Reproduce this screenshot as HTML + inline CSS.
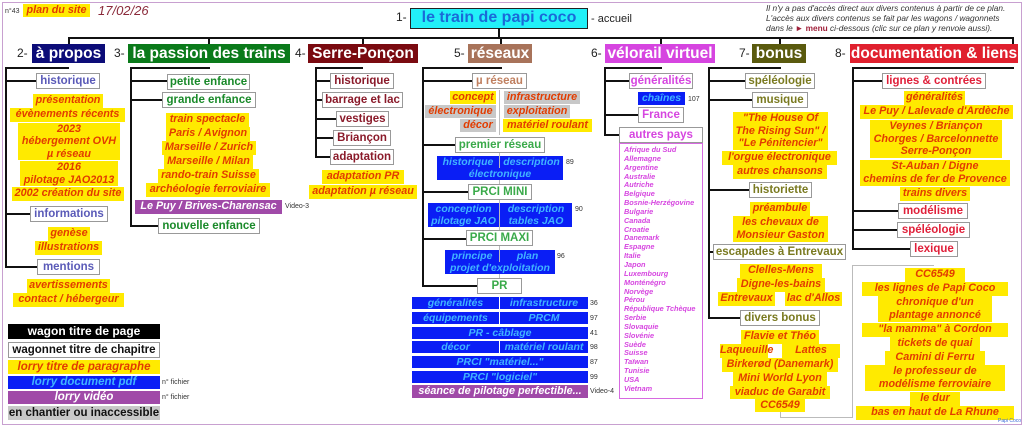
<!DOCTYPE html>
<html><head><meta charset="utf-8"><style>
*{margin:0;padding:0;box-sizing:border-box}
body{width:1024px;height:427px;position:relative;background:#fff;font-family:"Liberation Sans",Arial,sans-serif;overflow:hidden}
div{position:absolute;white-space:nowrap;text-align:center}
.fr{left:2px;top:2px;width:1020px;height:423px;border:1px solid #c8a0d0}
.l{background:#111}
.tl{background:#bbb}
.h{color:#fff;font-weight:bold;font-size:15.5px;line-height:19px;height:19px;overflow:hidden}
.n{font-size:12px;color:#222;line-height:19px}
.b{background:#fff;border:1px solid #999;font-weight:bold;font-size:11.5px;line-height:14px;height:16px}
.y{background:#ffea00;color:#e23c00;font-weight:bold;font-style:italic;font-size:10.8px;line-height:13px}
.gy{background:#c8c8c8;color:#e23c00;font-weight:bold;font-style:italic;font-size:10.8px;line-height:13px}
.bl{background:#0a1ef5;color:#40b4ff;font-weight:bold;font-style:italic;font-size:10.5px;line-height:12px;height:12px}
.pu{background:#a04aa8;color:#fff;font-weight:bold;font-style:italic;font-size:10.8px;line-height:13px}
.s{font-size:7px;color:#333;text-align:left}
</style></head><body>
<div class="fr"></div>
<div class="s" style="left:5px;top:8px">n°43</div>
<div class="y" style="left:23px;top:4px;width:67px;height:13px">plan du site</div>
<div style="left:98px;top:3px;font-size:13px;font-style:italic;color:#8a2a3a">17/02/26</div>
<div class="n" style="left:396px;top:8px">1-</div>
<div style="left:410px;top:8px;width:178px;height:21px;background:#22f0f8;border:1px solid #222;color:#1a6ad8;font-weight:bold;font-size:16px;line-height:18px">le train de papi coco</div>
<div style="left:591px;top:13px;font-size:11px;color:#222">- accueil</div>
<div style="left:766px;top:3px;font-size:8.3px;font-style:italic;color:#333;text-align:left;line-height:10px">Il n'y a pas d'accès direct aux divers contenus à partir de ce plan.<br>L'accès aux divers contenus se fait par les wagons / wagonnets<br>dans le <span style="color:#a0203a;font-style:normal;font-weight:bold">► menu</span> ci-dessous (clic sur ce plan y renvoie aussi).</div>

<div class="l" style="left:498px;top:28px;width:2px;height:10px"></div>
<div class="l" style="left:68px;top:37px;width:946px;height:2px"></div>
<div class="l" style="left:68px;top:37px;width:2px;height:8px"></div>
<div class="l" style="left:208px;top:37px;width:2px;height:8px"></div>
<div class="l" style="left:362px;top:37px;width:2px;height:8px"></div>
<div class="l" style="left:500px;top:37px;width:2px;height:8px"></div>
<div class="l" style="left:660px;top:37px;width:2px;height:8px"></div>
<div class="l" style="left:779px;top:37px;width:2px;height:8px"></div>
<div class="l" style="left:1012px;top:37px;width:2px;height:8px"></div>

<div class="n" style="left:17px;top:44px">2-</div><div class="h" style="left:32px;top:44px;width:73px;background:#0c0c78">à propos</div>
<div class="n" style="left:114px;top:44px">3-</div><div class="h" style="left:128px;top:44px;width:162px;background:#0a7a1a">la passion des trains</div>
<div class="n" style="left:295px;top:44px">4-</div><div class="h" style="left:308px;top:44px;width:110px;background:#7a0a10">Serre-Ponçon</div>
<div class="n" style="left:454px;top:44px">5-</div><div class="h" style="left:468px;top:44px;width:64px;background:#a8735a">réseaux</div>
<div class="n" style="left:591px;top:44px">6-</div><div class="h" style="left:605px;top:44px;width:110px;background:#d645e0">vélorail virtuel</div>
<div class="n" style="left:739px;top:44px">7-</div><div class="h" style="left:752px;top:44px;width:54px;background:#5a5a0e">bonus</div>
<div class="n" style="left:835px;top:44px">8-</div><div class="h" style="left:850px;top:44px;width:168px;background:#e0202e">documentation &amp; liens</div>

<div class="l" style="left:5px;top:67px;width:64px;height:2px"></div>
<div class="l" style="left:5px;top:67px;width:2px;height:201px"></div>
<div class="l" style="left:5px;top:80px;width:32px;height:2px"></div>
<div class="l" style="left:5px;top:213px;width:26px;height:2px"></div>
<div class="l" style="left:5px;top:266px;width:33px;height:2px"></div>

<div class="l" style="left:130px;top:67px;width:80px;height:2px"></div>
<div class="l" style="left:130px;top:67px;width:2px;height:160px"></div>
<div class="l" style="left:130px;top:80px;width:38px;height:2px"></div>
<div class="l" style="left:130px;top:99px;width:33px;height:2px"></div>
<div class="l" style="left:130px;top:225px;width:29px;height:2px"></div>

<div class="l" style="left:315px;top:67px;width:48px;height:2px"></div>
<div class="l" style="left:315px;top:67px;width:2px;height:91px"></div>
<div class="l" style="left:315px;top:80px;width:16px;height:2px"></div>
<div class="l" style="left:315px;top:99px;width:8px;height:2px"></div>
<div class="l" style="left:315px;top:118px;width:22px;height:2px"></div>
<div class="l" style="left:315px;top:137px;width:19px;height:2px"></div>
<div class="l" style="left:315px;top:156px;width:16px;height:2px"></div>

<div class="l" style="left:422px;top:67px;width:80px;height:2px"></div>
<div class="l" style="left:422px;top:67px;width:2px;height:220px"></div>
<div class="l" style="left:422px;top:80px;width:51px;height:2px"></div>
<div class="l" style="left:422px;top:144px;width:34px;height:2px"></div>
<div class="l" style="left:422px;top:191px;width:47px;height:2px"></div>
<div class="l" style="left:422px;top:238px;width:45px;height:2px"></div>
<div class="l" style="left:422px;top:285px;width:56px;height:2px"></div>

<div class="l" style="left:604px;top:67px;width:58px;height:2px"></div>
<div class="l" style="left:604px;top:67px;width:2px;height:69px"></div>
<div class="l" style="left:604px;top:80px;width:26px;height:2px"></div>
<div class="l" style="left:604px;top:114px;width:35px;height:2px"></div>
<div class="l" style="left:604px;top:134px;width:16px;height:2px"></div>

<div class="l" style="left:708px;top:67px;width:73px;height:2px"></div>
<div class="l" style="left:708px;top:67px;width:2px;height:252px"></div>
<div class="l" style="left:708px;top:80px;width:38px;height:2px"></div>
<div class="l" style="left:708px;top:99px;width:45px;height:2px"></div>
<div class="l" style="left:708px;top:189px;width:42px;height:2px"></div>
<div class="l" style="left:708px;top:251px;width:6px;height:2px"></div>
<div class="l" style="left:708px;top:317px;width:33px;height:2px"></div>

<div class="l" style="left:852px;top:67px;width:162px;height:2px"></div>
<div class="l" style="left:852px;top:67px;width:2px;height:182px"></div>
<div class="l" style="left:852px;top:80px;width:31px;height:2px"></div>
<div class="l" style="left:852px;top:210px;width:47px;height:2px"></div>
<div class="l" style="left:852px;top:229px;width:46px;height:2px"></div>
<div class="l" style="left:852px;top:248px;width:59px;height:2px"></div>

<div class="tl" style="left:780px;top:405px;width:1px;height:13px"></div>
<div class="tl" style="left:780px;top:417px;width:73px;height:1px"></div>
<div class="tl" style="left:852px;top:265px;width:1px;height:153px"></div>
<div class="tl" style="left:852px;top:265px;width:82px;height:1px"></div>
<div class="tl" style="left:499px;top:150px;width:1px;height:140px"></div>
<div class="tl" style="left:499px;top:90px;width:1px;height:45px"></div>

<div class="b" style="left:36px;top:73px;width:64px;color:#5a5ab8">historique</div>
<div class="y" style="left:33px;top:94px;width:70px;height:14px">présentation</div>
<div class="y" style="left:10px;top:108px;width:115px;height:14px">évènements récents</div>
<div class="y" style="left:18px;top:123px;width:102px;height:37px;line-height:12.3px">2023<br>hébergement OVH<br>µ réseau</div>
<div class="y" style="left:20px;top:161px;width:98px;height:25px;line-height:12.5px">2016<br>pilotage JAO2013</div>
<div class="y" style="left:12px;top:187px;width:112px;height:14px">2002 création du site</div>
<div class="b" style="left:30px;top:206px;width:78px;color:#5a5ab8">informations</div>
<div class="y" style="left:48px;top:227px;width:42px;height:14px">genèse</div>
<div class="y" style="left:35px;top:241px;width:67px;height:14px">illustrations</div>
<div class="b" style="left:37px;top:259px;width:63px;color:#5a5ab8">mentions</div>
<div class="y" style="left:27px;top:279px;width:83px;height:14px">avertissements</div>
<div class="y" style="left:13px;top:293px;width:111px;height:14px">contact / hébergeur</div>

<div class="b" style="left:167px;top:74px;width:83px;color:#1a8a2a">petite enfance</div>
<div class="b" style="left:162px;top:92px;width:94px;color:#1a8a2a">grande enfance</div>
<div class="y" style="left:166px;top:113px;width:83px;height:14px">train spectacle</div>
<div class="y" style="left:166px;top:127px;width:84px;height:14px">Paris / Avignon</div>
<div class="y" style="left:162px;top:141px;width:94px;height:14px">Marseille / Zurich</div>
<div class="y" style="left:164px;top:155px;width:89px;height:14px">Marseille / Milan</div>
<div class="y" style="left:158px;top:169px;width:101px;height:14px">rando-train Suisse</div>
<div class="y" style="left:146px;top:183px;width:124px;height:14px">archéologie ferroviaire</div>
<div class="pu" style="left:135px;top:200px;width:147px;height:14px">Le Puy / Brives-Charensac</div>
<div class="s" style="left:285px;top:203px">Video-3</div>
<div class="b" style="left:158px;top:218px;width:102px;color:#1a8a2a">nouvelle enfance</div>

<div class="b" style="left:330px;top:73px;width:64px;color:#8a1a2a">historique</div>
<div class="b" style="left:322px;top:92px;width:81px;color:#8a1a2a">barrage et lac</div>
<div class="b" style="left:336px;top:111px;width:53px;color:#8a1a2a">vestiges</div>
<div class="b" style="left:333px;top:130px;width:58px;color:#8a1a2a">Briançon</div>
<div class="b" style="left:330px;top:149px;width:64px;color:#8a1a2a">adaptation</div>
<div class="y" style="left:322px;top:170px;width:82px;height:14px">adaptation PR</div>
<div class="y" style="left:309px;top:185px;width:108px;height:14px">adaptation µ réseau</div>

<div class="b" style="left:472px;top:73px;width:55px;color:#c08060">µ réseau</div>
<div class="y" style="left:450px;top:91px;width:46px;height:13px">concept</div>
<div class="gy" style="left:504px;top:91px;width:76px;height:13px">infrastructure</div>
<div class="gy" style="left:425px;top:105px;width:71px;height:13px">électronique</div>
<div class="gy" style="left:504px;top:105px;width:66px;height:13px">exploitation</div>
<div class="gy" style="left:460px;top:119px;width:36px;height:13px">décor</div>
<div class="y" style="left:503px;top:119px;width:89px;height:13px">matériel roulant</div>
<div class="b" style="left:455px;top:137px;width:90px;color:#3aaa4a">premier réseau</div>
<div class="bl" style="left:437px;top:156px;width:62px">historique</div><div class="bl" style="left:500px;top:156px;width:63px">description</div>
<div class="bl" style="left:437px;top:168px;width:126px">électronique</div>
<div class="s" style="left:566px;top:159px">89</div>
<div class="b" style="left:468px;top:184px;width:64px;color:#3aaa4a">PRCI MINI</div>
<div class="bl" style="left:428px;top:203px;width:71px">conception</div><div class="bl" style="left:500px;top:203px;width:72px">description</div>
<div class="bl" style="left:428px;top:215px;width:71px">pilotage JAO</div><div class="bl" style="left:500px;top:215px;width:72px">tables JAO</div>
<div class="s" style="left:575px;top:206px">90</div>
<div class="b" style="left:466px;top:230px;width:67px;color:#3aaa4a">PRCI MAXI</div>
<div class="bl" style="left:445px;top:250px;width:54px">principe</div><div class="bl" style="left:500px;top:250px;width:55px">plan</div>
<div class="bl" style="left:445px;top:262px;width:110px">projet d'exploitation</div>
<div class="s" style="left:557px;top:253px">96</div>
<div class="b" style="left:477px;top:278px;width:45px;color:#3aaa4a">PR</div>
<div class="bl" style="left:412px;top:297px;width:87px">généralités</div><div class="bl" style="left:500px;top:297px;width:88px">infrastructure</div>
<div class="bl" style="left:412px;top:312px;width:87px">équipements</div><div class="bl" style="left:500px;top:312px;width:88px">PRCM</div>
<div class="bl" style="left:412px;top:327px;width:176px">PR - câblage</div>
<div class="bl" style="left:412px;top:341px;width:87px">décor</div><div class="bl" style="left:500px;top:341px;width:88px">matériel roulant</div>
<div class="bl" style="left:412px;top:356px;width:176px">PRCI "matériel..."</div>
<div class="bl" style="left:412px;top:371px;width:176px">PRCI "logiciel"</div>
<div class="pu" style="left:412px;top:385px;width:176px;height:13px;line-height:13px">séance de pilotage perfectible...</div>
<div class="s" style="left:590px;top:300px">36</div>
<div class="s" style="left:590px;top:315px">97</div>
<div class="s" style="left:590px;top:330px">41</div>
<div class="s" style="left:590px;top:344px">98</div>
<div class="s" style="left:590px;top:359px">87</div>
<div class="s" style="left:590px;top:374px">99</div>
<div class="s" style="left:590px;top:388px">Video-4</div>

<div class="b" style="left:629px;top:73px;width:64px;color:#d645e0">généralités</div>
<div class="bl" style="left:638px;top:92px;width:47px;height:13px;line-height:13px">chaînes</div>
<div class="s" style="left:688px;top:96px">107</div>
<div class="b" style="left:638px;top:107px;width:46px;color:#d645e0">France</div>
<div class="b" style="left:619px;top:127px;width:84px;color:#d645e0">autres pays</div>
<div style="left:619px;top:143px;width:84px;height:256px;border:1px solid #d66ae0;color:#d645e0;font-weight:bold;font-style:italic;font-size:7.3px;line-height:8.85px;text-align:left;padding:2px 0 0 4px">Afrique du Sud<br>Allemagne<br>Argentine<br>Australie<br>Autriche<br>Belgique<br>Bosnie-Herzégovine<br>Bulgarie<br>Canada<br>Croatie<br>Danemark<br>Espagne<br>Italie<br>Japon<br>Luxembourg<br>Monténégro<br>Norvège<br>Pérou<br>République Tchèque<br>Serbie<br>Slovaquie<br>Slovénie<br>Suède<br>Suisse<br>Taïwan<br>Tunisie<br>USA<br>Vietnam</div>

<div class="b" style="left:745px;top:73px;width:70px;color:#7a7a20">spéléologie</div>
<div class="b" style="left:752px;top:92px;width:56px;color:#7a7a20">musique</div>
<div class="y" style="left:733px;top:112px;width:95px;height:38px;line-height:12.5px">"The House Of<br>The Rising Sun" /<br>"Le Pénitencier"</div>
<div class="y" style="left:722px;top:151px;width:115px;height:14px">l'orgue électronique</div>
<div class="y" style="left:733px;top:165px;width:94px;height:14px">autres chansons</div>
<div class="b" style="left:749px;top:182px;width:63px;color:#7a7a20">historiette</div>
<div class="y" style="left:750px;top:202px;width:60px;height:14px">préambule</div>
<div class="y" style="left:733px;top:216px;width:95px;height:26px;line-height:12.5px">les chevaux de<br>Monsieur Gaston</div>
<div class="b" style="left:713px;top:244px;width:133px;color:#7a7a20">escapades à Entrevaux</div>
<div class="y" style="left:740px;top:264px;width:82px;height:14px">Clelles-Mens</div>
<div class="y" style="left:737px;top:278px;width:88px;height:14px">Digne-les-bains</div>
<div class="y" style="left:718px;top:292px;width:57px;height:14px">Entrevaux</div>
<div class="y" style="left:785px;top:292px;width:57px;height:14px">lac d'Allos</div>
<div class="b" style="left:740px;top:310px;width:80px;color:#7a7a20">divers bonus</div>
<div class="y" style="left:741px;top:330px;width:78px;height:14px">Flavie et Théo</div>
<div class="y" style="left:720px;top:344px;width:48px;height:14px">Laqueuille</div>
<div class="y" style="left:782px;top:344px;width:58px;height:14px">Lattes</div>
<div class="y" style="left:722px;top:358px;width:116px;height:14px">Birkerød (Danemark)</div>
<div class="y" style="left:733px;top:372px;width:94px;height:14px">Mini World Lyon</div>
<div class="y" style="left:730px;top:386px;width:100px;height:13px">viaduc de Garabit</div>
<div class="y" style="left:755px;top:399px;width:50px;height:13px">CC6549</div>

<div class="b" style="left:882px;top:73px;width:104px;color:#e0203a">lignes &amp; contrées</div>
<div class="y" style="left:904px;top:91px;width:61px;height:14px">généralités</div>
<div class="y" style="left:860px;top:105px;width:153px;height:14px">Le Puy / Lalevade d'Ardèche</div>
<div class="y" style="left:870px;top:120px;width:132px;height:38px;line-height:12.5px">Veynes / Briançon<br>Chorges / Barcelonnette<br>Serre-Ponçon</div>
<div class="y" style="left:860px;top:160px;width:150px;height:26px;line-height:12.5px">St-Auban / Digne<br>chemins de fer de Provence</div>
<div class="y" style="left:900px;top:187px;width:70px;height:14px">trains divers</div>
<div class="b" style="left:898px;top:203px;width:70px;color:#e0203a">modélisme</div>
<div class="b" style="left:897px;top:222px;width:73px;color:#e0203a">spéléologie</div>
<div class="b" style="left:910px;top:241px;width:48px;color:#e0203a">lexique</div>
<div class="y" style="left:905px;top:268px;width:60px;height:14px">CC6549</div>
<div class="y" style="left:862px;top:282px;width:146px;height:14px">les lignes de Papi Coco</div>
<div class="y" style="left:878px;top:296px;width:114px;height:26px;line-height:12.5px">chronique d'un<br>plantage annoncé</div>
<div class="y" style="left:862px;top:323px;width:146px;height:14px">"la mamma" à Cordon</div>
<div class="y" style="left:890px;top:337px;width:90px;height:14px">tickets de quai</div>
<div class="y" style="left:885px;top:351px;width:100px;height:14px">Camini di Ferru</div>
<div class="y" style="left:865px;top:365px;width:140px;height:26px;line-height:12.5px">le professeur de<br>modélisme ferroviaire</div>
<div class="y" style="left:910px;top:392px;width:50px;height:14px">le dur</div>
<div class="y" style="left:856px;top:406px;width:158px;height:14px">bas en haut de La Rhune</div>
<div style="left:998px;top:418px;font-size:5px;color:#3a6ad8">Papi Coco</div>

<div style="left:8px;top:324px;width:152px;height:15px;background:#000;color:#fff;font-weight:bold;font-size:12px;line-height:15px">wagon titre de page</div>
<div style="left:8px;top:342px;width:152px;height:16px;background:#fff;border:1px solid #999;color:#111;font-weight:bold;font-size:11.5px;line-height:14px">wagonnet titre de chapitre</div>
<div class="y" style="left:8px;top:360px;width:152px;height:14px;line-height:14px;font-size:11.5px">lorry titre de paragraphe</div>
<div class="bl" style="left:8px;top:376px;width:152px;height:13px;line-height:13px;font-size:11.5px">lorry document pdf</div>
<div class="s" style="left:162px;top:379px">n° fichier</div>
<div class="pu" style="left:8px;top:391px;width:152px;height:13px;font-size:11.5px">lorry vidéo</div>
<div class="s" style="left:162px;top:394px">n° fichier</div>
<div style="left:8px;top:406px;width:152px;height:14px;background:#c8c8c8;color:#111;font-weight:bold;font-size:11.5px;line-height:14px">en chantier ou inaccessible</div>
</body></html>
